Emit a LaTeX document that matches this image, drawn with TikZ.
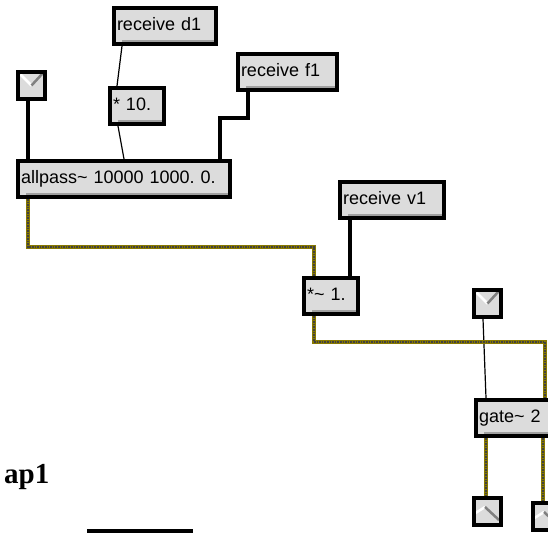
\documentclass[tikz,border=0pt]{standalone}
\usepackage{fontspec}
\newfontfamily\patchfont{Liberation Sans}
\newfontfamily\titlefont{Liberation Serif}
\definecolor{boxgrey}{RGB}{220,220,220}
\definecolor{shadegrey}{RGB}{160,160,160}
\definecolor{sigolive}{RGB}{135,120,0}
\frenchspacing

\begin{document}
\begin{tikzpicture}[x=1pt, y=-1pt,
  obj/.style={draw, line width=4pt, fill=boxgrey, outer sep=2pt, anchor=north west,
    inner xsep=3pt, inner ysep=0pt, minimum height=36pt, align=left,
    font=\patchfont\fontsize{18}{20}\selectfont, text height=13pt, text depth=4pt,
    path picture={\draw[shadegrey, line width=2pt]
      ([xshift=8pt, yshift=3pt]path picture bounding box.south west) --
      ([yshift=3pt]path picture bounding box.south east);}},
  tgl/.style={draw, line width=4pt, fill=boxgrey, outer sep=2pt, anchor=north west,
    inner sep=0pt, minimum width=27pt, minimum height=27pt},
  tglcheck/.style={tgl, path picture={
      \draw[white, line width=2.5pt] ([shift={(-11pt,11pt)}]path picture bounding box.center) -- (path picture bounding box.center);
      \draw[gray, line width=2.5pt] (path picture bounding box.center) -- ([shift={(11pt,12pt)}]path picture bounding box.center);}},
  tglup/.style={tgl, path picture={
      \draw[white, line width=2.5pt] ([shift={(-12pt,-1.5pt)}]path picture bounding box.center) -- ([shift={(-2.5pt,4.5pt)}]path picture bounding box.center);
      \draw[gray, line width=2.5pt] ([shift={(-2.5pt,4.5pt)}]path picture bounding box.center) -- ([shift={(11.5pt,-8.5pt)}]path picture bounding box.center);}},
  ctl/.style={line width=4pt},
  thin/.style={line width=1.2pt},
  sig/.style={sigolive, line width=4pt,
    postaction={draw, black!75, line width=1.6pt, densely dotted}}
]
\useasboundingbox (0,0) rectangle (548,532);
\clip (0,0) rectangle (548,532);

% objects
\node[obj, text width=96pt] (rd1) at (112,6) {receive d1};
\node[obj, text width=48pt] (mul10) at (108,86) {* 10.};
\node[obj, text width=93pt] (rf1) at (236,52) {receive f1};
\node[tglcheck] (tga) at (16,70) {};
\node[obj, text width=206pt] (allpass) at (16,159) {allpass\textasciitilde{} 10000 1000. 0.};
\node[obj, text width=98pt] (rv1) at (338,180) {receive v1};
\node[obj, text width=48pt] (sigmul) at (302,276) {*\textasciitilde{} 1.};
\node[tglcheck] (tgb) at (472,288) {};
\node[obj, text width=70pt] (gate) at (474,398) {gate\textasciitilde{} 2};
\node[tglup] (outa) at (472,496) {};
\node[tglup] (outb) at (531,501) {};
\node[obj, text width=96pt] (cut) at (87,529) {};
\node[anchor=base west, inner sep=0pt, font=\titlefont\bfseries\fontsize{29}{32}\selectfont] (title) at (4,483) {ap1};

% control cables
\draw[thin] ([xshift=10pt]rd1.south west) -- ([xshift=9pt]mul10.north west);
\draw[thin] ([xshift=10pt]mul10.south west) -- ([xshift=108pt]allpass.north west);
\draw[ctl] ([xshift=12pt]tga.south west) -- ([xshift=12pt]allpass.north west);
\draw[ctl] ([xshift=12pt]rf1.south west) -- ++(0,26) -| ([xshift=204pt]allpass.north west);
\draw[ctl] ([xshift=12pt]rv1.south west) -- ([xshift=48pt]sigmul.north west);
\draw[thin] ([xshift=11pt]tgb.south west) -- ([xshift=12pt]gate.north west);

% signal cables
\draw[sig] ([xshift=12pt]allpass.south west) -- ++(0,48) -| ([xshift=12pt]sigmul.north west);
\draw[sig] ([xshift=12pt]sigmul.south west) -- ++(0,26) -| ([xshift=71pt]gate.north west);
\draw[sig] ([xshift=12pt]gate.south west) -- ([xshift=14pt]outa.north west);
\draw[sig] ([xshift=69pt]gate.south west) -- ([xshift=12pt]outb.north west);
\end{tikzpicture}
\end{document}
